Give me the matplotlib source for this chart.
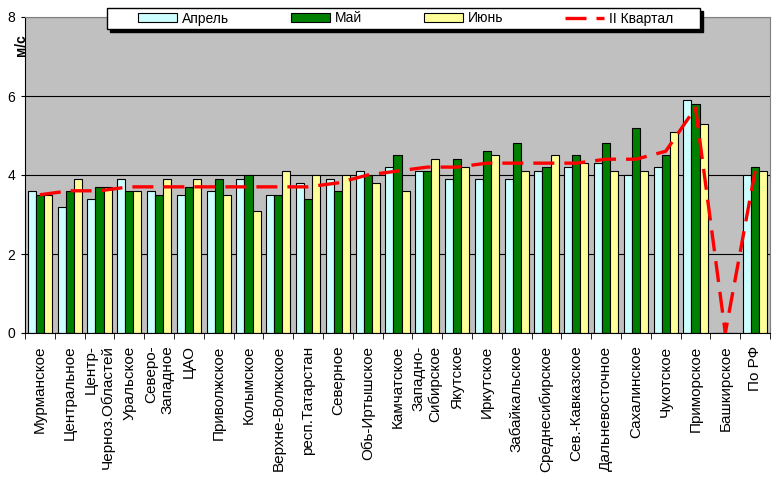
import matplotlib
matplotlib.use("Agg")
from matplotlib import pyplot as plt
from matplotlib.patches import Patch, Rectangle
from matplotlib.lines import Line2D
import numpy as np

plt.rcParams['font.family'] = ['Liberation Sans', 'DejaVu Sans']

regions = ["Мурманское", "Центральное", "Центр-\nЧерноз.Областей", "Уральское",
           "Северо-\nЗападное", "ЦАО", "Приволжское", "Колымское",
           "Верхне-Волжское", "респ.Татарстан", "Северное", "Обь-Иртышское",
           "Камчатское", "Западно-\nСибирское", "Якутское", "Иркутское",
           "Забайкальское", "Среднесибирское", "Сев.-Кавказское",
           "Дальневосточное", "Сахалинское", "Чукотское", "Приморское",
           "Башкирское", "По РФ"]
april = [3.6, 3.2, 3.4, 3.9, 3.6, 3.5, 3.6, 3.9, 3.5, 3.8, 3.9, 4.1, 4.2,
         4.1, 3.9, 3.9, 3.9, 4.1, 4.2, 4.3, 4.0, 4.2, 5.9, 0, 4.0]
may = [3.5, 3.6, 3.7, 3.6, 3.5, 3.7, 3.9, 4.0, 3.5, 3.4, 3.6, 4.0, 4.5,
       4.1, 4.4, 4.6, 4.8, 4.2, 4.5, 4.8, 5.2, 4.5, 5.8, 0, 4.2]
june = [3.5, 3.9, 3.7, 3.6, 3.9, 3.9, 3.5, 3.1, 4.1, 4.0, 4.0, 3.8, 3.6,
        4.4, 4.2, 4.5, 4.1, 4.5, 4.3, 4.1, 4.1, 5.1, 5.3, 0, 4.1]
quarter = [3.5, 3.6, 3.6, 3.7, 3.7, 3.7, 3.7, 3.7, 3.7, 3.7, 3.8, 4.0, 4.1,
           4.2, 4.2, 4.3, 4.3, 4.3, 4.3, 4.4, 4.4, 4.6, 5.7, 0, 4.1]

c_apr = '#CCFFFF'
c_may = '#008000'
c_jun = '#FFFF99'
W, H = 777, 479

fig = plt.figure(figsize=(7.77, 4.79), dpi=100)
ax = fig.add_axes([25 / W, 1 - 333 / H, 745 / W, 316 / H])
ax.set_facecolor('#C0C0C0')

x = np.arange(len(regions))
w = 0.27
ax.bar(x - w, april, w, color=c_apr, edgecolor='black', linewidth=0.8, zorder=2)
ax.bar(x, may, w, color=c_may, edgecolor='black', linewidth=0.8, zorder=2)
ax.bar(x + w, june, w, color=c_jun, edgecolor='black', linewidth=0.8, zorder=2)
ax.plot(x, quarter, color='red', linewidth=2.4, linestyle=(0, (6.3, 3)), zorder=3)

ax.set_xlim(-0.5, len(regions) - 0.5)
ax.set_ylim(0, 8)
ax.set_yticks([0, 2, 4, 6, 8])
ax.yaxis.grid(True, color='black', linewidth=0.8)
ax.set_axisbelow(True)
ax.tick_params(axis='y', labelsize=10, length=3, pad=4)

ax.set_xticks(x)
ax.set_xticklabels(regions, rotation=90, fontsize=11, va='top', ha='center',
                   multialignment='right')
ax.tick_params(axis='x', length=0, pad=9)
ax.set_xticks(np.arange(len(regions) + 1) - 0.5, minor=True)
ax.tick_params(axis='x', which='minor', length=4, color='black')

for s in ['top', 'right']:
    ax.spines[s].set_color('#808080')
for s in ['left', 'bottom']:
    ax.spines[s].set_color('black')

fig.text(21 / W, 1 - 45 / H, 'м/с', rotation=90, fontsize=10,
         fontweight='bold', ha='center', va='center')

# legend box with a hard black shadow
bx0, bx1, by0, by1 = 107, 700, 8, 29
fig.add_artist(Rectangle(((bx0 + 3) / W, 1 - (by1 + 3) / H), (bx1 - bx0) / W,
                         (by1 - by0) / H, transform=fig.transFigure,
                         facecolor='black', edgecolor='black', zorder=5))
fig.add_artist(Rectangle((bx0 / W, 1 - by1 / H), (bx1 - bx0) / W,
                         (by1 - by0) / H, transform=fig.transFigure,
                         facecolor='white', edgecolor='black', linewidth=1,
                         zorder=6))

handles = [Patch(facecolor=c_apr, edgecolor='black', linewidth=0.8),
           Patch(facecolor=c_may, edgecolor='black', linewidth=0.8),
           Patch(facecolor=c_jun, edgecolor='black', linewidth=0.8),
           Line2D([], [], color='red', linewidth=2.4, linestyle=(0, (6.3, 3)))]
leg = fig.legend(handles, ['Апрель', 'Май', 'Июнь', 'II Квартал'], ncol=4,
                 loc='center', bbox_to_anchor=(405.5 / W, 1 - 18.5 / H),
                 frameon=False, fontsize=10, handlelength=2.8,
                 handleheight=0.6, handletextpad=0.36, columnspacing=4.46,
                 borderpad=0, borderaxespad=0)
leg.set_zorder(7)

fig.savefig('out.png', dpi=100)
